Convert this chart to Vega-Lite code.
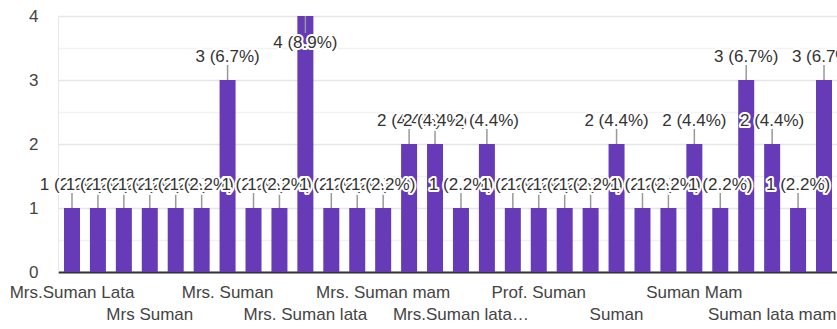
{
  "$schema": "https://vega.github.io/schema/vega-lite/v6.json",
  "width": 780,
  "height": 256,
  "autosize": "none",
  "padding": {"left": 58, "top": 16, "right": 0, "bottom": 57},
  "background": "white",
  "config": {"view": {"stroke": null}, "font": "Arial"},
  "data": {
    "values": [
      {"name": "Mrs.Suman Lata", "n": 1},
      {"name": "Mrs. Suman Lata", "n": 1},
      {"name": "Mrs Suman Lata", "n": 1},
      {"name": "Mrs Suman", "n": 1},
      {"name": "Mrs suman lata", "n": 1},
      {"name": "Mrs.Suman", "n": 1},
      {"name": "Mrs. Suman", "n": 3},
      {"name": "Mrs. suman", "n": 1},
      {"name": "Mrs Suman lata", "n": 1},
      {"name": "Mrs. Suman lata", "n": 4},
      {"name": "MRS. SUMAN LATA", "n": 1},
      {"name": "Mrs.suman lata", "n": 1},
      {"name": "Mrs. Suman mam", "n": 1},
      {"name": "Mrs. Suman Lata Mam", "n": 2},
      {"name": "Mrs Suman mam", "n": 2},
      {"name": "Mrs.Suman lata mam", "n": 1},
      {"name": "Ms. Suman Lata", "n": 2},
      {"name": "Ms Suman", "n": 1},
      {"name": "Prof. Suman", "n": 1},
      {"name": "Prof. Suman Lata", "n": 1},
      {"name": "Suman lata", "n": 1},
      {"name": "Suman", "n": 2},
      {"name": "Suman Lata", "n": 1},
      {"name": "suman mam", "n": 1},
      {"name": "Suman Mam", "n": 2},
      {"name": "Suman ma'am", "n": 1},
      {"name": "Suman Lata Mam", "n": 3},
      {"name": "Suman lata mam", "n": 2},
      {"name": "Suman Lata ma'am", "n": 1},
      {"name": "Suman mam ji", "n": 3}
    ]
  },
  "transform": [
    {"joinaggregate": [{"op": "sum", "field": "n", "as": "total"}]},
    {"calculate": "datum.n + ' (' + format(datum.n / datum.total, '.1%') + ')'", "as": "label"}
  ],
  "encoding": {
    "x": {
      "field": "name",
      "type": "nominal",
      "sort": null,
      "scale": {"paddingInner": 0.383, "paddingOuter": 0.231},
      "axis": {
        "title": null,
        "labelAngle": 0,
        "ticks": false,
        "grid": false,
        "domainColor": "#333333",
        "domainWidth": 2,
        "labelPadding": 12,
        "labelFont": "Arial",
        "labelFontSize": 17,
        "labelColor": "#444444",
        "labelOverlap": false,
        "labelBound": false,
        "labelLimit": 138,
        "labelLineHeight": 22,
        "labelBaseline": "top",
        "labelExpr": "(round(datum.index * 29) % 3 != 0) ? '' : (round(datum.index * 29) % 6 == 0 ? datum.label : ['', datum.label])"
      }
    },
    "y": {
      "field": "n",
      "type": "quantitative",
      "scale": {"domain": [0, 4]},
      "axis": {
        "title": null,
        "values": [0, 0.5, 1, 1.5, 2, 2.5, 3, 3.5, 4],
        "labelExpr": "datum.value % 1 == 0 ? format(datum.value, 'd') : ''",
        "ticks": false,
        "domainColor": "#e8e8e8",
        "domainWidth": 1,
        "labelPadding": 20,
        "labelFont": "Arial",
        "labelFontSize": 17,
        "labelColor": "#444444",
        "gridColor": {"condition": {"test": "datum.value % 1 == 0", "value": "#e6e6e6"}, "value": "#f2f2f2"},
        "gridWidth": 1.5
      }
    }
  },
  "layer": [
    {"mark": {"type": "bar", "color": "#673ab7"}},
    {
      "mark": {"type": "rule", "color": "#999999", "strokeWidth": 1.5, "y2Offset": {"expr": "datum.n >= 4 ? 17 : -15"}},
      "encoding": {"y2": {"field": "n"}}
    },
    {
      "transform": [
        {"window": [{"op": "row_number", "as": "rank"}]},
        {"calculate": "[0, 1]", "as": "pass"},
        {"flatten": ["pass"]},
        {"calculate": "datum.rank * 2 + datum.pass", "as": "drawOrder"}
      ],
      "mark": {"type": "text", "baseline": "middle", "fontSize": 17, "font": "Arial", "stroke": "white", "strokeJoin": "round", "dy": {"expr": "datum.n >= 4 ? 27 : -23"}},
      "encoding": {
        "text": {"field": "label"},
        "order": {"field": "drawOrder", "type": "quantitative"},
        "color": {"condition": {"test": "datum.pass == 0", "value": "white"}, "value": "#333333"},
        "strokeWidth": {"condition": {"test": "datum.pass == 0", "value": 4}, "value": 0}
      }
    }
  ]
}
